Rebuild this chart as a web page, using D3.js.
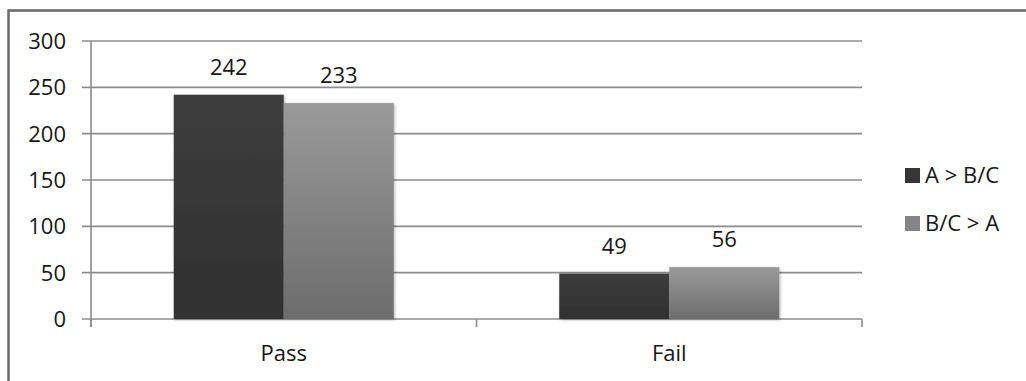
<!DOCTYPE html>
<html>
<head>
<meta charset="utf-8">
<script src="https://cdn.jsdelivr.net/npm/d3@7"></script>
<style>
  body { margin: 0; background: #fff; }
  text { font-family: "Open Sans", sans-serif; fill: #161616; font-size: 22px; }
</style>
</head>
<body>
<svg id="chart" width="1026" height="381"></svg>
<script>
var categories = ['Pass', 'Fail'];
var seriesNames = ['A > B/C', 'B/C > A'];
var seriesA = [242, 49];
var seriesB = [233, 56];
var yTicks = [0, 50, 100, 150, 200, 250, 300];

var svg = d3.select('#chart');

// outer frame
svg.append('rect')
  .attr('x', 8.5).attr('y', 10.5)
  .attr('width', 1030).attr('height', 390)
  .attr('fill', 'none')
  .attr('stroke', '#6a6a6a')
  .attr('stroke-width', 2.5);

var plotLeft = 91, plotRight = 862, plotTop = 41, plotBottom = 319;

var x = d3.scaleBand().domain(categories).range([plotLeft, plotRight]);
var inner = d3.scaleBand().domain([0, 1]).range([0, 220]);
var y = d3.scaleLinear().domain([0, 300]).range([plotBottom, plotTop]);

var defs = svg.append('defs');
var gradA = defs.append('linearGradient').attr('id', 'gA').attr('x1', 0).attr('y1', 0).attr('x2', 0).attr('y2', 1);
gradA.append('stop').attr('offset', 0).attr('stop-color', '#3d3d3d');
gradA.append('stop').attr('offset', 1).attr('stop-color', '#303030');
var gradB = defs.append('linearGradient').attr('id', 'gB').attr('x1', 0).attr('y1', 0).attr('x2', 0).attr('y2', 1);
gradB.append('stop').attr('offset', 0).attr('stop-color', '#9a9a9a');
gradB.append('stop').attr('offset', 1).attr('stop-color', '#6c6c6c');
var shadow = defs.append('filter').attr('id', 'sh').attr('x', '-10%').attr('y', '-10%').attr('width', '120%').attr('height', '120%');
shadow.append('feDropShadow').attr('dx', 1).attr('dy', 1).attr('stdDeviation', 1.5).attr('flood-opacity', 0.3);

// gridlines
svg.append('g').selectAll('line')
  .data(yTicks)
  .enter().append('line')
  .attr('x1', plotLeft - 9).attr('x2', plotRight)
  .attr('y1', d => y(d)).attr('y2', d => y(d))
  .attr('stroke', '#8c8c8c')
  .attr('stroke-width', 1.6);

// y axis line
svg.append('line')
  .attr('x1', plotLeft).attr('x2', plotLeft)
  .attr('y1', plotTop).attr('y2', plotBottom + 8)
  .attr('stroke', '#8c8c8c').attr('stroke-width', 1.6);

// x tick marks at band edges
svg.append('g').selectAll('line')
  .data([plotLeft, x('Fail'), plotRight])
  .enter().append('line')
  .attr('x1', d => d).attr('x2', d => d)
  .attr('y1', plotBottom).attr('y2', plotBottom + 8)
  .attr('stroke', '#8c8c8c').attr('stroke-width', 1.6);

// y labels
svg.append('g').selectAll('text')
  .data(yTicks)
  .enter().append('text')
  .attr('x', 66)
  .attr('y', d => y(d) + 8)
  .attr('text-anchor', 'end')
  .text(d => d);

var series = [
  { name: seriesNames[0], values: seriesA, fill: 'url(#gA)', key: '#363636' },
  { name: seriesNames[1], values: seriesB, fill: 'url(#gB)', key: '#858585' }
];

var barOffset = (x.bandwidth() - 220) / 2;

series.forEach(function (s, si) {
  var g = svg.append('g');
  g.selectAll('rect')
    .data(s.values)
    .enter().append('rect')
    .attr('x', (d, i) => x(categories[i]) + barOffset + inner(si))
    .attr('y', d => y(d))
    .attr('width', inner.bandwidth())
    .attr('height', d => plotBottom - y(d))
    .attr('fill', s.fill)
    .attr('filter', 'url(#sh)');
  g.selectAll('text')
    .data(s.values)
    .enter().append('text')
    .attr('x', (d, i) => x(categories[i]) + barOffset + inner(si) + inner.bandwidth() / 2)
    .attr('y', d => y(d) - 20)
    .attr('text-anchor', 'middle')
    .text(d => d);
});

// category labels
svg.append('g').selectAll('text')
  .data(categories)
  .enter().append('text')
  .attr('x', d => x(d) + x.bandwidth() / 2)
  .attr('y', 361)
  .attr('text-anchor', 'middle')
  .text(d => d);

// legend
var legend = svg.append('g').selectAll('g')
  .data(series)
  .enter().append('g')
  .attr('transform', (d, i) => 'translate(905,' + (168 + i * 48) + ')');
legend.append('rect')
  .attr('width', 15).attr('height', 15)
  .attr('fill', d => d.key);
legend.append('text')
  .attr('x', 20).attr('y', 15)
  .text(d => d.name);
</script>
</body>
</html>
